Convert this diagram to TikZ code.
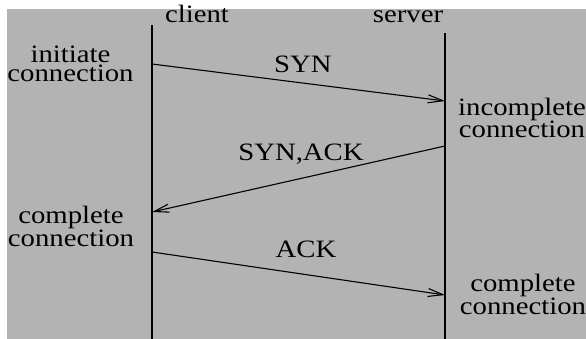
\documentclass[tikz,border=0pt]{standalone}
\usepackage{fontspec}
\setmainfont{Liberation Serif}
\newfontfamily\lblfont[FakeStretch=1.15]{Liberation Serif}
\usetikzlibrary{arrows.meta}
\definecolor{bggray}{RGB}{179,179,179}
\tikzset{
  lbl/.style={font=\lblfont\fontsize{25}{18.5}\selectfont, inner sep=0pt, anchor=base, text=black},
  state/.style={lbl, align=center},
  life/.style={line width=1.1pt, black},
  msg/.style={line width=1.1pt, black, -{Straight Barb[length=15pt,width=8pt,line width=1.1pt]}}
}
\begin{document}
\begin{tikzpicture}[x=1pt,y=-1pt]
\useasboundingbox (0,0) rectangle (586,339);
\fill[bggray] (7,9) rectangle (586,339);
% lifelines
\coordinate (ctop) at (152,25);
\coordinate (cbot) at (152,339);
\coordinate (stop) at (445,33);
\coordinate (sbot) at (445,339);
\draw[life] (ctop) -- (cbot);
\draw[life] (stop) -- (sbot);
% message end points
\coordinate (c1) at (152,64);
\coordinate (s1) at (445,101);
\coordinate (s2) at (445,146);
\coordinate (c2) at (152,212);
\coordinate (c3) at (152,252);
\coordinate (s3) at (445,295);
\draw[msg] (c1) -- (s1);
\draw[msg] (s2) -- (c2);
\draw[msg] (c3) -- (s3);
% headers
\node[lbl] (client) at (197,23) {client};
\node[lbl] (server) at (408,23) {server};
% message labels
\node[lbl] (syn) at (303,73) {SYN};
\node[lbl] (synack) at (301,161) {SYN,ACK};
\node[lbl] (ack) at (306,257) {ACK};
% state labels (anchored at the baseline of the last line)
\node[state] (init) at (70.5,82) {initiate\\[1pt]connection};
\node[state] (inc) at (522,137.5) {incomplete\\[-1pt]connection};
\node[state] (cc) at (71,246.5) {complete\\connection};
\node[state] (sc) at (523,314) {complete\\connection};
\end{tikzpicture}
\end{document}
